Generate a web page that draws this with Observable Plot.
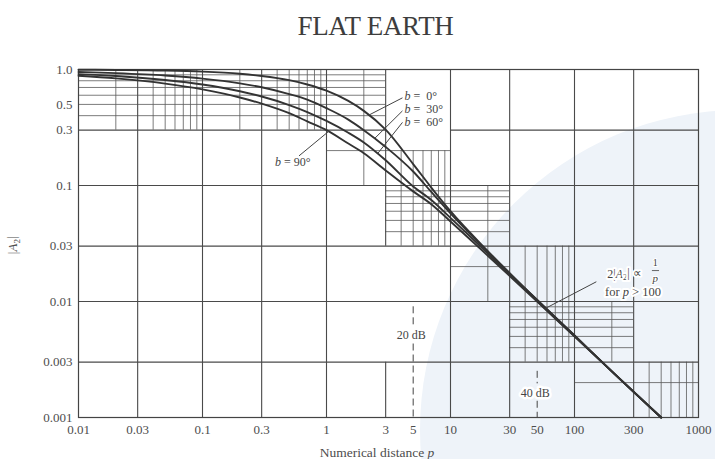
<!DOCTYPE html>
<html>
<head>
<meta charset="utf-8">
<script src="https://cdn.jsdelivr.net/npm/d3@7"></script>
<script src="https://cdn.jsdelivr.net/npm/@observablehq/plot@0.6"></script>
<style>
  html, body { margin: 0; padding: 0; background: #ffffff; }
  body { width: 715px; height: 459px; overflow: hidden; position: relative; font-family: "Liberation Serif", "DejaVu Serif", serif; }
  #wash { position: absolute; left: 420px; top: 110px; width: 640px; height: 640px; border-radius: 50%;
          background: #eef3f9; z-index: 0; }
  #title { position: relative; z-index: 1; height: 48px; box-sizing: border-box; padding-top: 13px; padding-left: 36px; text-align: center;
           font-size: 27px; line-height: 27px; color: #3d3d3d; letter-spacing: -0.3px; }
  #chart { position: relative; z-index: 1; }
  #chart svg { display: block; }
  #chart g[aria-label="x tick labels"] text,
  #chart g[aria-label="y tick labels"] text { letter-spacing: 1.2px; }
</style>
</head>
<body>
<div id="wash"></div>
<div id="title">FLAT EARTH</div>
<div id="chart"></div>
<script>
// ---- data ----
const pValues = [0.01, 0.02, 0.05, 0.1, 0.2, 0.3, 0.5, 0.7, 1, 1.5, 2, 3, 5, 7, 10, 20, 50, 100, 200, 500];
const attenuationB0  = [0.996, 0.991, 0.979, 0.958, 0.918, 0.879, 0.809, 0.743, 0.657, 0.536, 0.44, 0.303, 0.153, 0.096, 0.060, 0.0272, 0.0103, 0.0051, 0.0025, 0.001];
const attenuationB30 = [0.952, 0.930, 0.887, 0.835, 0.760, 0.703, 0.614, 0.55, 0.464, 0.37, 0.30, 0.215, 0.132, 0.088, 0.0576, 0.0268, 0.0103, 0.0051, 0.0025, 0.001];
const attenuationB60 = [0.913, 0.879, 0.812, 0.742, 0.649, 0.585, 0.494, 0.43, 0.36, 0.285, 0.235, 0.165, 0.098, 0.075, 0.0526, 0.0259, 0.0101, 0.005, 0.0025, 0.001];
const attenuationB90 = [0.883, 0.838, 0.756, 0.674, 0.574, 0.508, 0.42, 0.357, 0.30, 0.23, 0.19, 0.135, 0.089, 0.069, 0.049, 0.0248, 0.0100, 0.005, 0.0025, 0.001];
const seriesNames = ["b = 0°", "b = 30°", "b = 60°", "b = 90°"];

const xTicks = [0.01, 0.03, 0.1, 0.3, 1, 3, 5, 10, 30, 50, 100, 300, 1000];
const xTickLabels = ["0.01", "0.03", "0.1", "0.3", "1", "3", "5", "10", "30", "50", "100", "300", "1000"];
const yTicks = [1, 0.5, 0.3, 0.1, 0.03, 0.01, 0.003, 0.001];
const yTickLabels = ["1.0", "0.5", "0.3", "0.1", "0.03", "0.01", "0.003", "0.001"];

// grid lines of the log paper: [value, from, to]
const majorVertical = [[0.03, 0.001, 1], [0.1, 0.001, 1], [0.3, 0.001, 1], [1, 0.001, 1], [3, 0.03, 1], [3, 0.001, 0.003],
                       [10, 0.001, 1], [30, 0.001, 1], [100, 0.001, 1], [300, 0.001, 1]];
const majorHorizontal = [[0.3, 0.01, 3], [0.3, 10, 1000], [0.1, 0.01, 1000], [0.03, 0.01, 1000], [0.01, 0.01, 1000], [0.003, 0.01, 1000]];
const minorVerticalGroups = [
  {xs: [0.02, 0.04, 0.05, 0.06, 0.07, 0.08, 0.09, 0.2, 0.4, 0.5, 0.6, 0.7, 0.8, 0.9], from: 0.3, to: 1},
  {xs: [2], from: 0.1, to: 1},
  {xs: [4, 5, 6, 7, 8, 9], from: 0.03, to: 0.2},
  {xs: [20], from: 0.01, to: 0.1},
  {xs: [40, 50, 60, 70, 80, 90], from: 0.003, to: 0.03},
  {xs: [200], from: 0.003, to: 0.01},
  {xs: [400, 500, 600, 700, 800, 900], from: 0.001, to: 0.003}
];
const minorHorizontalGroups = [
  {ys: [0.4, 0.5, 0.6, 0.7, 0.8, 0.9], from: 0.01, to: 3},
  {ys: [0.2], from: 1, to: 10},
  {ys: [0.04, 0.05, 0.06, 0.07, 0.08, 0.09], from: 3, to: 30},
  {ys: [0.02], from: 10, to: 30},
  {ys: [0.004, 0.005, 0.006, 0.007, 0.008, 0.009], from: 30, to: 300},
  {ys: [0.002], from: 100, to: 1000}
];

// dashed reference lines (broken where their labels sit) and the labels
const dbLines = [[5, 0.009, 0.0061], [5, 0.0043, 0.001], [50, 0.0025, 0.00195], [50, 0.00138, 0.001]];
const dbLabels = [[5, 0.0051, "20 dB"], [50, 0.00162, "40 dB"]];

// pointer lines for annotations [x1, y1, x2, y2]
const pointers = [[4.1, 0.57, 2.2, 0.405], [4.1, 0.44, 2.45, 0.255], [4.1, 0.35, 2.6, 0.19], [0.6, 0.18, 1.05, 0.295], [150, 0.0148, 58, 0.0087]];

// ---- build tables ----
const allSeries = [attenuationB0, attenuationB30, attenuationB60, attenuationB90];
const curveRows = allSeries.flatMap((vals, s) => pValues.map((p, i) => ({p, A: vals[i], b: seriesNames[s]})));
const vMajor = majorVertical.map(([x, y1, y2]) => ({x, y1, y2}));
const hMajor = majorHorizontal.map(([y, x1, x2]) => ({y, x1, x2}));
const vMinor = minorVerticalGroups.flatMap(g => g.xs.map(x => ({x, y1: g.from, y2: g.to})));
const hMinor = minorHorizontalGroups.flatMap(g => g.ys.map(y => ({y, x1: g.from, x2: g.to})));
const xTickRows = xTicks.map((v, i) => ({v, label: xTickLabels[i]}));
const yTickRows = yTicks.map((v, i) => ({v, label: yTickLabels[i]}));

const chart = Plot.plot({
  width: 715, height: 411,
  marginLeft: 78, marginRight: 17, marginTop: 21, marginBottom: 42,
  style: {background: "transparent", fontFamily: "'Liberation Serif', serif", color: "#4d4d4d"},
  x: {type: "log", domain: [0.01, 1000], axis: null},
  y: {type: "log", domain: [0.001, 1], axis: null},
  marks: [
    Plot.ruleX(vMinor, {x: "x", y1: "y1", y2: "y2", stroke: "#5a5a5a", strokeWidth: 0.8}),
    Plot.ruleY(hMinor, {y: "y", x1: "x1", x2: "x2", stroke: "#5a5a5a", strokeWidth: 0.8}),
    Plot.ruleX(vMajor, {x: "x", y1: "y1", y2: "y2", stroke: "#4a4a4a", strokeWidth: 1.1}),
    Plot.ruleY(hMajor, {y: "y", x1: "x1", x2: "x2", stroke: "#4a4a4a", strokeWidth: 1.1}),
    Plot.frame({stroke: "#444", strokeWidth: 1.2}),
    Plot.ruleX(dbLines, {x: d => d[0], y1: d => d[1], y2: d => d[2], stroke: "#444", strokeWidth: 1, strokeDasharray: "7,4"}),
    Plot.line(curveRows, {x: "p", y: "A", z: "b", stroke: "#333", strokeWidth: 1.9, curve: "monotone-x"}),
    Plot.link(pointers, {x1: d => d[0], y1: d => d[1], x2: d => d[2], y2: d => d[3], stroke: "#444", strokeWidth: 1}),
    Plot.text(dbLabels, {x: d => d[0], y: d => d[1], text: d => d[2], fontSize: 12, fill: "#444", dx: -2,
                         stroke: "white", strokeWidth: 5, paintOrder: "stroke"}),
    Plot.text(xTickRows, {x: "v", text: "label", frameAnchor: "bottom", lineAnchor: "top", dy: 7,
                          fontSize: 13, fill: "#4d4d4d", ariaLabel: "x tick labels"}),
    Plot.text(yTickRows, {y: "v", text: "label", frameAnchor: "left", textAnchor: "end", dx: -6,
                          fontSize: 13, fill: "#4d4d4d", ariaLabel: "y tick labels"})
  ]
});
document.getElementById("chart").appendChild(chart);

// ---- rich-text annotations placed through the plot's scales ----
const sx = chart.scale("x"), sy = chart.scale("y");
const svg = d3.select(chart);
function rich(x, y, parts, {anchor = "start", size = 13, halo = 4} = {}) {
  const t = svg.append("text")
    .attr("x", sx.apply(x)).attr("y", sy.apply(y)).attr("dy", "0.35em")
    .attr("text-anchor", anchor).attr("font-size", size)
    .attr("font-family", "'Liberation Serif', serif").attr("fill", "#444")
    .attr("stroke", "white").attr("stroke-width", halo).attr("stroke-linejoin", "round")
    .attr("paint-order", "stroke");
  for (const [s, kind] of parts) {
    const ts = t.append("tspan").text(s);
    if (kind === "i") ts.attr("font-style", "italic");
    if (kind === "sub") ts.attr("font-size", size * 0.7).attr("dy", "0.3em");
    if (kind === "after-sub") ts.attr("dy", "-0.3em");
  }
  return t;
}
rich(4.3, 0.585, [["b", "i"], [" =  0°"]], {size: 12});
rich(4.3, 0.452, [["b", "i"], [" =  30°"]], {size: 12});
rich(4.3, 0.35, [["b", "i"], [" =  60°"]], {size: 12});
rich(0.54, 0.158, [["b", "i"], [" = 90°"]], {anchor: "middle", size: 12});
rich(255, 0.0172, [["2|"], ["A", "i"], ["2", "sub"], ["| ∝", "after-sub"]], {anchor: "middle", size: 12});
rich(452, 0.0213, [["1"]], {anchor: "middle", size: 10, halo: 2});
rich(452, 0.0158, [["p", "i"]], {anchor: "middle", size: 11, halo: 2});
svg.append("line").attr("x1", sx.apply(425)).attr("x2", sx.apply(485))
  .attr("y1", sy.apply(0.0183)).attr("y2", sy.apply(0.0183)).attr("stroke", "#444").attr("stroke-width", 0.8);
rich(299, 0.0121, [["for "], ["p", "i"], [" > 100"]], {anchor: "middle", size: 12.5});

// axis titles
const fx = (sx.range[0] + sx.range[1]) / 2;
const bottom = sy.apply(0.001);
const xt = svg.append("text").attr("x", fx - 11).attr("y", bottom + 40).attr("text-anchor", "middle")
  .attr("font-size", 13.5).attr("font-family", "'Liberation Serif', serif").attr("fill", "#4d4d4d");
xt.append("tspan").text("Numerical distance ");
xt.append("tspan").attr("font-style", "italic").text("p");
const yt = svg.append("text").attr("transform", `translate(17,${(sy.apply(0.03) + sy.apply(0.01)) / 2 - 28}) rotate(-90)`)
  .attr("text-anchor", "middle").attr("font-size", 13).attr("font-family", "'Liberation Serif', serif").attr("fill", "#4d4d4d");
yt.append("tspan").text("|");
yt.append("tspan").attr("font-style", "italic").text("A");
yt.append("tspan").attr("font-size", 9).attr("dy", "0.3em").text("2");
yt.append("tspan").attr("dy", "-0.3em").text("|");
</script>
</body>
</html>
